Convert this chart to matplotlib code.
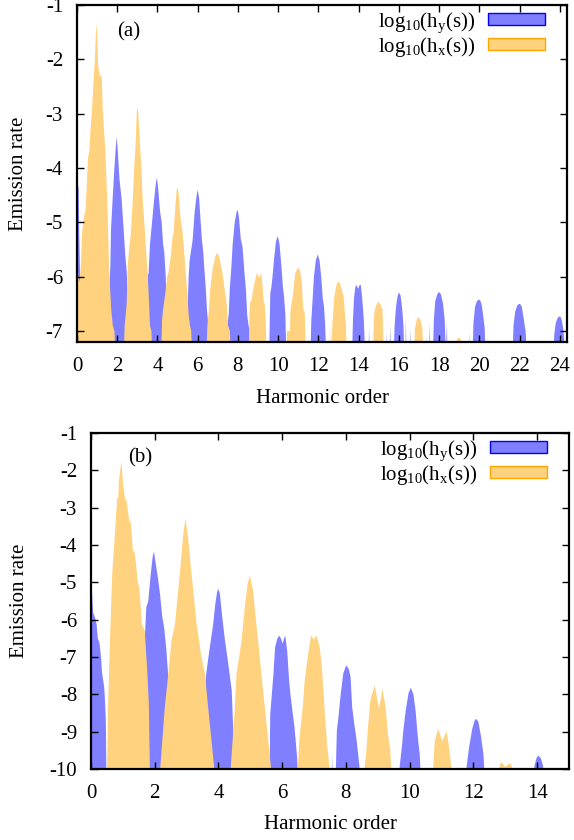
import matplotlib
matplotlib.use("Agg")
import matplotlib.pyplot as plt
from matplotlib.patches import Patch

plt.rcParams["font.family"] = ["Liberation Serif", "DejaVu Serif"]
plt.rcParams["mathtext.fontset"] = "custom"
plt.rcParams["mathtext.rm"] = "Liberation Serif"
plt.rcParams["mathtext.it"] = "Liberation Serif:italic"
plt.rcParams["font.size"] = 15
plt.rcParams["axes.unicode_minus"] = False

# ---- panel (a): traced envelopes (harmonic order, log10 emission) ----
hy_a_x = [0.0, 0.08, 0.11, 0.15, 0.19, 0.25,
          1.48, 1.53, 1.61, 1.66, 1.69, 1.77, 1.86, 1.93, 1.98, 2.03, 2.11, 2.22, 2.32, 2.40, 2.47, 2.52, 2.59, 2.65, 2.69,
          3.33, 3.38, 3.48, 3.51, 3.56, 3.63, 3.73, 3.83, 3.93, 3.97, 4.03, 4.13, 4.21, 4.28, 4.34, 4.41, 4.45, 4.53, 4.59, 4.64,
          5.34, 5.40, 5.50, 5.55, 5.60, 5.68, 5.75, 5.85, 5.95, 6.0, 6.07, 6.15, 6.21, 6.28, 6.32, 6.40, 6.46, 6.53, 6.59, 6.63,
          7.41, 7.47, 7.54, 7.60, 7.67, 7.74, 7.84, 7.94, 7.99, 8.05, 8.14, 8.23, 8.32, 8.40, 8.46, 8.53, 8.59, 8.63,
          9.55, 9.61, 9.66, 9.72, 9.79, 9.89, 9.98, 10.07, 10.16, 10.24, 10.29, 10.36, 10.41,
          11.60, 11.65, 11.70, 11.78, 11.87, 11.97, 12.06, 12.14, 12.22, 12.28, 12.34, 12.39,
          13.67, 13.72, 13.77, 13.83, 13.88, 13.98, 14.05, 14.11, 14.18, 14.26, 14.33,
          14.49, 14.52, 14.55, 15.37, 15.40, 15.43, 15.54, 15.57, 15.60,
          15.74, 15.79, 15.86, 15.94, 16.01, 16.09, 16.17, 16.23, 16.28, 16.33, 16.35, 16.38, 16.53, 16.56, 16.59,
          17.33, 17.36, 17.39, 17.49, 17.52, 17.55,
          17.69, 17.74, 17.81, 17.91, 18.0, 18.09, 18.20, 18.28, 18.34, 18.39, 18.42,
          19.47, 19.50, 19.53, 19.66, 19.71, 19.79, 19.88, 19.98, 20.04, 20.11, 20.19, 20.27, 20.31, 20.41, 20.43, 20.45,
          21.65, 21.70, 21.78, 21.88, 21.97, 22.03, 22.11, 22.20, 22.30, 22.35, 22.38,
          23.68, 23.73, 23.80, 23.89, 23.97, 24.02, 24.09, 24.17, 24.23, 24.27]
hy_a_y = [-4.5, -4.3, -5.2, -5.9, -6.5, -7.5,
          -7.5, -6.9, -6.2, -5.8, -5.13, -4.58, -4.0, -3.6, -3.43, -3.7, -4.2, -4.58, -5.13, -5.6, -5.9, -6.4, -6.8, -7.0, -7.5,
          -7.5, -6.9, -6.5, -6.0, -5.92, -5.4, -5.0, -4.6, -4.25, -4.18, -4.35, -4.8, -5.0, -5.4, -5.55, -6.0, -6.4, -6.8, -7.0, -7.5,
          -7.5, -6.9, -6.6, -6.0, -5.7, -5.5, -5.32, -4.8, -4.5, -4.4, -4.55, -5.0, -5.32, -5.55, -5.8, -6.2, -6.6, -6.9, -7.0, -7.5,
          -7.5, -6.9, -6.7, -6.2, -5.85, -5.4, -5.0, -4.8, -4.77, -4.9, -5.3, -5.45, -5.9, -6.25, -6.7, -6.9, -7.0, -7.5,
          -7.5, -6.3, -6.2, -6.0, -5.7, -5.35, -5.25, -5.4, -5.8, -6.2, -6.35, -6.7, -7.5,
          -7.5, -6.8, -6.5, -6.0, -5.7, -5.59, -5.7, -6.0, -6.4, -6.55, -6.9, -7.5,
          -7.5, -6.8, -6.4, -6.2, -6.15, -6.22, -6.15, -6.15, -6.4, -6.8, -7.5,
          -7.5, -6.95, -7.5, -7.5, -7.03, -7.5, -7.5, -6.88, -7.5,
          -7.5, -6.9, -6.55, -6.35, -6.29, -6.35, -6.6, -6.9, -7.5, -7.5, -6.75, -7.5, -7.5, -6.96, -7.5,
          -7.5, -7.1, -7.5, -7.5, -6.84, -7.5,
          -7.5, -6.8, -6.45, -6.32, -6.28, -6.32, -6.5, -6.8, -7.5, -6.84, -7.5,
          -7.5, -7.03, -7.5, -7.5, -6.85, -6.55, -6.45, -6.42, -6.43, -6.5, -6.7, -6.95, -7.5, -7.5, -7.1, -7.5,
          -7.5, -6.9, -6.65, -6.53, -6.5, -6.5, -6.55, -6.75, -7.0, -7.3, -7.5,
          -7.5, -7.05, -6.85, -6.76, -6.73, -6.73, -6.78, -6.95, -7.2, -7.5]

hx_a_x = [0.0, 0.13, 0.19, 0.25, 0.35, 0.43, 0.50, 0.55, 0.61, 0.67, 0.75, 0.83, 0.89, 0.93, 0.97,
          1.01, 1.05, 1.13, 1.23, 1.28, 1.36, 1.41, 1.52, 1.59, 1.70, 1.78, 1.86, 1.91,
          2.32, 2.37, 2.47, 2.52, 2.59, 2.68, 2.77, 2.85, 2.92, 2.97, 3.01, 3.05, 3.12, 3.20, 3.27, 3.38, 3.45, 3.51, 3.56,
          3.63, 3.70, 3.74,
          4.18, 4.23, 4.28, 4.39, 4.49, 4.56, 4.67, 4.74, 4.80, 4.89, 4.96, 5.0, 5.05, 5.14, 5.25, 5.32, 5.38, 5.44, 5.49,
          5.55, 5.62, 5.68, 5.72,
          6.43, 6.48, 6.56, 6.61, 6.66, 6.75, 6.86, 6.93, 6.99, 7.06, 7.16, 7.24, 7.33, 7.44, 7.51, 7.60, 7.67,
          8.53, 8.58, 8.61, 8.68, 8.73, 8.83, 8.93, 8.96, 9.03, 9.09, 9.15, 9.21, 9.28, 9.33, 9.38, 9.43,
          10.42, 10.44, 10.59, 10.61, 10.73, 10.85, 10.95, 11.01, 11.08, 11.17, 11.25, 11.32, 11.39,
          12.55, 12.58, 12.61, 12.71, 12.78, 12.87, 12.95, 13.0, 13.07, 13.17, 13.25, 13.37, 13.42,
          14.71, 14.76, 14.81, 14.90, 14.99, 15.07, 15.19, 15.25,
          16.75, 16.80, 16.90, 16.98, 17.06, 17.17, 17.24,
          18.86, 18.90, 18.99, 19.08, 19.12]
hx_a_y = [-5.9, -6.1, -5.8, -5.2, -4.9, -4.75, -4.2, -3.8, -3.7, -3.3, -2.9, -2.35, -2.0, -1.6, -1.33,
          -1.6, -2.1, -2.3, -2.32, -2.9, -3.4, -3.66, -4.77, -5.8, -6.6, -6.9, -7.0, -7.5,
          -7.5, -6.9, -6.5, -5.8, -5.5, -5.19, -4.6, -3.97, -3.5, -3.0, -2.86, -3.0, -3.5, -3.97, -4.6, -5.19, -5.6, -5.92, -6.3,
          -6.9, -7.0, -7.5,
          -7.5, -6.8, -6.6, -6.3, -6.0, -5.9, -5.6, -5.3, -5.19, -4.7, -4.4, -4.35, -4.45, -4.9, -5.19, -5.5, -5.8, -6.1, -6.3,
          -6.7, -6.9, -7.0, -7.5,
          -7.5, -6.9, -6.6, -6.3, -6.1, -5.85, -5.65, -5.58, -5.57, -5.62, -5.8, -5.95, -6.2, -6.5, -6.9, -7.0, -7.5,
          -7.5, -6.6, -6.45, -6.45, -6.3, -6.1, -5.95, -5.93, -6.0, -6.0, -5.93, -6.1, -6.45, -6.5, -6.8, -7.5,
          -7.5, -7.0, -7.0, -6.63, -6.35, -5.93, -5.86, -5.84, -5.88, -6.05, -6.6, -6.65, -7.5,
          -7.5, -6.88, -7.5, -6.8, -6.41, -6.2, -6.1, -6.09, -6.12, -6.25, -6.35, -6.9, -7.5,
          -7.5, -6.75, -6.6, -6.5, -6.46, -6.5, -6.6, -7.5,
          -7.5, -6.95, -6.78, -6.74, -6.78, -6.95, -7.5,
          -7.5, -7.14, -7.12, -7.14, -7.5]

# ---- panel (b) ----
hy_b_x = [0.0, 0.02, 0.05, 0.1, 0.16, 0.2, 0.25, 0.3, 0.33, 0.4, 0.43, 0.45, 0.47,
          1.6, 1.62, 1.67, 1.72, 1.78, 1.86, 1.92, 1.96, 2.0, 2.09, 2.15, 2.22, 2.28, 2.35, 2.4, 2.45, 2.5,
          3.5, 3.55, 3.6, 3.7, 3.82, 3.88, 3.94, 3.98, 4.03, 4.1, 4.19, 4.28, 4.4, 4.46, 4.48,
          5.55, 5.59, 5.61, 5.71, 5.76, 5.83, 5.89, 5.95, 6.0, 6.04, 6.08, 6.14, 6.2, 6.24, 6.3, 6.37, 6.45, 6.5,
          7.53, 7.55, 7.57,
          7.65, 7.67, 7.7, 7.75, 7.8, 7.9, 7.99, 8.07, 8.13, 8.18, 8.25, 8.32, 8.41, 8.43,
          9.64, 9.67, 9.75, 9.78, 9.86, 9.95, 10.02, 10.1, 10.17, 10.23, 10.3, 10.35,
          11.74, 11.77, 11.85, 11.95, 12.03, 12.08, 12.14, 12.22, 12.3, 12.36,
          13.86, 13.9, 13.97, 14.03, 14.1, 14.17, 14.21]
hy_b_y = [-5.0, -5.3, -5.8, -5.9, -6.1, -6.5, -6.6, -7.0, -7.4, -7.8, -8.3, -8.7, -10.5,
          -10.5, -7.5, -6.55, -5.65, -5.5, -4.76, -4.3, -4.16, -4.4, -4.9, -5.3, -5.9, -6.2, -6.8, -7.4, -8.5, -10.5,
          -10.5, -8.0, -7.44, -6.8, -6.1, -5.6, -5.25, -5.16, -5.3, -5.9, -6.55, -7.1, -7.88, -9.22, -10.5,
          -10.5, -9.94, -8.51, -7.44, -6.73, -6.5, -6.41, -6.5, -6.63, -6.5, -6.41, -6.81, -7.6, -7.97, -8.4, -8.86, -9.66, -10.5,
          -10.5, -9.62, -10.5,
          -10.5, -9.93, -8.95, -8.6, -8.14, -7.43, -7.21, -7.3, -7.52, -8.33, -8.8, -9.22, -9.93, -10.5,
          -10.5, -9.93, -9.31, -9.0, -8.42, -7.95, -7.81, -7.98, -8.42, -9.04, -9.6, -10.5,
          -10.5, -9.93, -9.4, -8.9, -8.67, -8.65, -8.72, -9.1, -9.6, -10.5,
          -10.5, -9.9, -9.68, -9.63, -9.7, -9.9, -10.5]

hx_b_x = [0.47, 0.49, 0.52, 0.58, 0.65, 0.72, 0.81, 0.84, 0.86, 0.94,
          0.99, 1.06, 1.09, 1.2, 1.23, 1.3, 1.36, 1.46, 1.5, 1.58, 1.67, 1.75, 1.8, 1.83, 1.85,
          2.12, 2.16, 2.3, 2.41, 2.51, 2.62, 2.77, 2.88, 2.95, 3.03, 3.14, 3.3, 3.45, 3.56, 3.68, 3.85, 3.87,
          4.35, 4.37, 4.5, 4.55, 4.71, 4.81, 4.9, 4.97, 5.07, 5.12, 5.25, 5.33, 5.44, 5.63, 5.65,
          6.45, 6.47, 6.53, 6.64, 6.68, 6.77, 6.89, 6.97, 7.06, 7.16, 7.23, 7.31, 7.39, 7.48, 7.5,
          8.55, 8.57, 8.63, 8.67, 8.75, 8.89, 9.02, 9.13, 9.23, 9.3, 9.37, 9.41, 9.43,
          10.7, 10.72, 10.77, 10.88, 11.01, 11.14, 11.21, 11.3, 11.32,
          12.76, 12.78, 12.85, 12.99, 13.14, 13.22, 13.24]
hx_b_y = [-10.5, -9.94, -8.33, -6.55, -4.76, -3.87, -2.71, -2.75, -2.27, -1.74,
          -2.35, -2.8, -2.75, -3.42, -3.33, -4.13, -4.2, -5.02, -5.1, -6.1, -6.28, -7.36, -8.25, -9.94, -10.5,
          -10.5, -9.94, -8.33, -7.44, -6.55, -6.1, -4.76, -3.69, -3.29, -3.78, -4.76, -6.1, -6.99, -7.44, -8.51, -9.94, -10.5,
          -10.5, -9.94, -8.33, -7.44, -6.55, -5.65, -5.03, -4.8, -5.2, -5.65, -6.73, -7.44, -8.33, -9.94, -10.5,
          -10.5, -10.0, -9.13, -8.24, -7.7, -7.08, -6.41, -6.52, -6.41, -6.72, -7.26, -8.33, -9.31, -10.0, -10.5,
          -10.5, -9.98, -9.44, -8.95, -8.14, -7.75, -8.37, -7.84, -8.33, -9.04, -9.44, -9.98, -10.5,
          -10.5, -10.0, -9.24, -8.91, -9.24, -8.97, -9.33, -10.0, -10.5,
          -10.5, -10.0, -9.8, -9.93, -9.82, -10.0, -10.5]

label_hy = r"log$_{\rm 10}$(h$_{\rm y}$(s))"
label_hx = r"log$_{\rm 10}$(h$_{\rm x}$(s))"

blue_fill = "#7f7fff"
blue_edge = "#0000ff"
orange_fill = "#ffd27f"
orange_edge = "#ffa500"

fig = plt.figure(figsize=(5.74, 8.4), dpi=100)
ax_a = fig.add_axes([77 / 574, 1 - 342 / 840, 490 / 574, 337 / 840])
ax_b = fig.add_axes([91 / 574, 1 - 769 / 840, 478 / 574, 336 / 840])

panels = [
    (ax_a, hy_a_x, hy_a_y, hx_a_x, hx_a_y, (0, 24.36), (-7.2, -1), range(0, 25, 2), range(-7, 0), "(a)", 0.082, 0.92),
    (ax_b, hy_b_x, hy_b_y, hx_b_x, hx_b_y, (0, 15), (-10, -1), range(0, 15, 2), range(-10, 0), "(b)", 0.077, 0.926),
]

for ax, yx, yy, xx, xy, xlim, ylim, xt, yt, tag, tx, ty in panels:
    ax.fill_between(yx, yy, -20, color=blue_fill, lw=0)
    ax.fill_between(xx, xy, -20, color=orange_fill, lw=0)
    ax.set_xlim(*xlim)
    ax.set_ylim(*ylim)
    ax.set_xticks(list(xt))
    ax.set_yticks(list(yt))
    ax.tick_params(direction="in", top=True, right=True, length=5, width=1)
    ax.tick_params(axis="x", pad=11)
    ax.tick_params(axis="y", pad=10)
    for s in ax.spines.values():
        s.set_linewidth(1.6)
    ax.set_xlabel("Harmonic order")
    ax.set_ylabel("Emission rate")
    ax.text(tx, ty, tag, transform=ax.transAxes, ha="left", va="center")
    handles = [Patch(facecolor=blue_fill, edgecolor=blue_edge, lw=1),
               Patch(facecolor=orange_fill, edgecolor=orange_edge, lw=1)]
    ax.legend(handles, [label_hy, label_hx], loc="upper right", bbox_to_anchor=(0.955, 0.985),
              frameon=False, markerfirst=False, handlelength=2.75, handleheight=0.5,
              handletextpad=0.6, labelspacing=0.0, borderpad=0, borderaxespad=0)

ax_a.xaxis.set_label_coords(0.5, -0.139)
ax_b.xaxis.set_label_coords(0.5, -0.137)
ax_a.yaxis.set_label_coords(-0.1, 0.5)
ax_b.yaxis.set_label_coords(-0.13, 0.5)

fig.savefig("out.png", dpi=100)
